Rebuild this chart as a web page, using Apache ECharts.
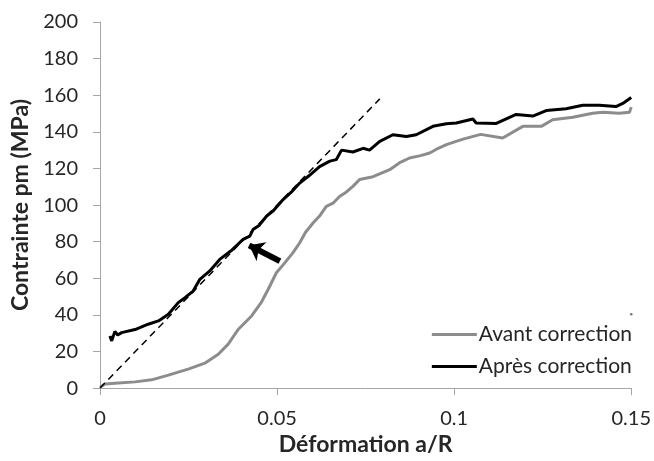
<!DOCTYPE html>
<html>
<head>
<meta charset="utf-8">
<script src="https://cdn.jsdelivr.net/npm/echarts@6/dist/echarts.min.js"></script>
<style>html,body{margin:0;padding:0;background:#fff;}#c{width:654px;height:461px;}</style>
</head>
<body>
<div id="c"></div>
<script>
const seriesNames = ['Avant correction', 'Après correction'];
const avantData = [[0,0.5],[0.0014,2.2],[0.0042,2.7],[0.0099,3.4],[0.0146,4.5],[0.0193,7.1],[0.0249,10.4],[0.0296,13.6],[0.0334,18.5],[0.0362,24],[0.039,32],[0.0428,39.4],[0.0456,47],[0.0475,54],[0.0498,63],[0.052,68],[0.0545,74],[0.0564,79.4],[0.058,85],[0.0602,90.3],[0.062,94],[0.0639,99.3],[0.0658,101],[0.0677,104.8],[0.0695,107],[0.0714,110.2],[0.0733,114],[0.0771,115.5],[0.0818,119.3],[0.0845,123],[0.0874,125.7],[0.0905,127],[0.0931,128.4],[0.0955,131],[0.0978,133],[0.1025,136],[0.1075,138.6],[0.1137,136.6],[0.1194,143],[0.1246,143],[0.1278,146.6],[0.1335,148],[0.1391,150.2],[0.142,150.7],[0.1466,150.2],[0.1495,150.7],[0.15,153.5]];
const apresData = [[0.0028,28.5],[0.0033,25.8],[0.0042,31],[0.005,29],[0.0061,30.3],[0.0099,32],[0.0136,34.9],[0.0165,36.7],[0.0193,40.3],[0.0221,46.7],[0.024,49.4],[0.0263,53],[0.0282,59.4],[0.031,64],[0.0338,70.3],[0.037,75],[0.0404,81.2],[0.0423,83],[0.0432,86.6],[0.045,89],[0.047,93.9],[0.049,97],[0.0517,103],[0.054,107],[0.0564,112],[0.059,116],[0.062,121],[0.0649,124],[0.0667,124.8],[0.0682,130],[0.0714,129],[0.0743,131],[0.0761,130],[0.079,134.8],[0.0827,138.4],[0.0865,137.5],[0.0893,138.4],[0.094,143],[0.0978,144.4],[0.1006,144.8],[0.1053,147],[0.1062,144.8],[0.1119,144.6],[0.1175,149.5],[0.1222,148.6],[0.126,151.6],[0.1316,152.6],[0.1363,154.5],[0.141,154.5],[0.1457,153.8],[0.1476,155.5],[0.15,158.7]];
const tangentData = [[0,0],[0.079,158]];
const arrowFrom = [0.0508, 69.4];
const arrowTo = [0.0421, 78];
const strayPoint = [[0.15, 40.3]];
const xTicks = {min: 0, max: 0.15, interval: 0.05};
const yTicks = {min: 0, max: 200, interval: 20};

const font = 'Lato, "Open Sans", sans-serif';
const chart = echarts.init(document.getElementById('c'), null, {renderer: 'canvas'});
chart.setOption({
  animation: false,
  backgroundColor: '#fff',
  grid: {left: 100, right: 22, top: 22, bottom: 72, containLabel: false},
  legend: {
    data: seriesNames,
    orient: 'vertical',
    right: 17,
    top: 319,
    itemWidth: 45,
    itemHeight: 3,
    itemGap: 11,
    textStyle: {fontFamily: font, fontSize: 21, color: '#262626', padding: [0,0,0,-3]},
    icon: 'rect'
  },
  xAxis: {
    type: 'value', min: xTicks.min, max: xTicks.max, interval: xTicks.interval,
    name: 'Déformation a/R', nameLocation: 'middle', nameGap: 35,
    nameTextStyle: {fontFamily: font, fontSize: 23, fontWeight: 'bold', color: '#262626'},
    axisLine: {lineStyle: {color: '#a6a6a6', width: 1}},
    axisTick: {show: true, length: 7, lineStyle: {color: '#a6a6a6'}},
    axisLabel: {fontFamily: font, fontSize: 20, color: '#262626', margin: 20},
    splitLine: {show: false}
  },
  yAxis: {
    type: 'value', min: yTicks.min, max: yTicks.max, interval: yTicks.interval,
    name: 'Contrainte pm (MPa)', nameLocation: 'middle', nameGap: 57,
    nameTextStyle: {fontFamily: font, fontSize: 23, fontWeight: 'bold', color: '#262626'},
    axisLine: {show: true, lineStyle: {color: '#a6a6a6', width: 1}},
    axisTick: {show: true, length: 7, lineStyle: {color: '#a6a6a6'}},
    axisLabel: {fontFamily: font, fontSize: 20, color: '#262626', margin: 22},
    splitLine: {show: false}
  },
  series: [
    {
      name: seriesNames[0], type: 'line', data: avantData, symbol: 'none',
      lineStyle: {color: '#8c8c8c', width: 3}, itemStyle: {color: '#8c8c8c'}, z: 3
    },
    {
      name: seriesNames[1], type: 'line', data: apresData, symbol: 'none',
      lineStyle: {color: '#000', width: 3}, itemStyle: {color: '#000'}, z: 4,
      markLine: {
        silent: true, animation: false,
        label: {show: false},
        lineStyle: {color: '#000', width: 6, type: 'solid'},
        symbol: ['none', 'arrow'], symbolSize: [16, 14],
        data: [[{coord: arrowFrom}, {coord: arrowTo}]]
      }
    },
    {
      name: 'tangente', type: 'line', data: tangentData, symbol: 'none',
      lineStyle: {color: '#000', width: 1.5, type: [7, 5]}, z: 5
    },
    {
      name: 'point', type: 'scatter', data: strayPoint, symbolSize: 2.5,
      itemStyle: {color: '#555'}
    }
  ]
});
</script>
</body>
</html>
